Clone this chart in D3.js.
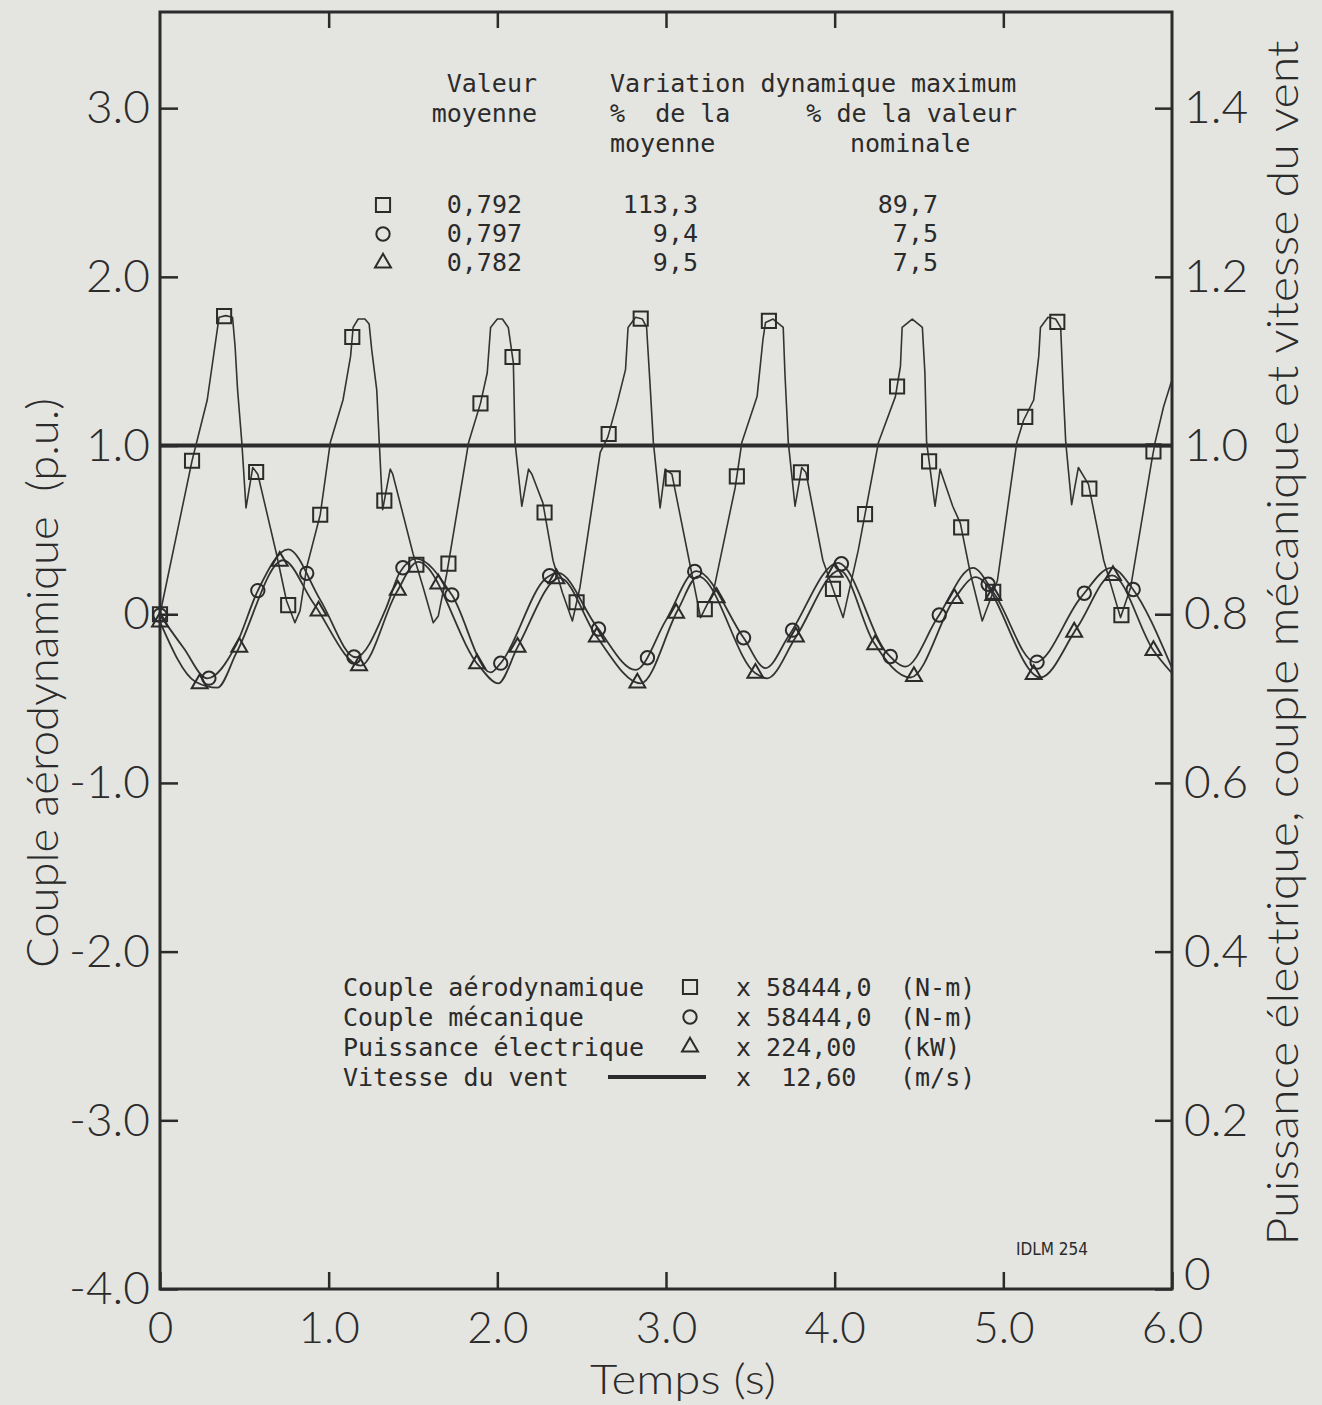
<!DOCTYPE html>
<html>
<head>
<meta charset="utf-8">
<script src="https://cdn.jsdelivr.net/npm/d3@7"></script>
<style>
  body { margin: 0; background: #e4e4e0; }
  svg { display: block; }
  .sans { font-family: "Lato", "DejaVu Sans Condensed", sans-serif; font-weight: 300; fill: #2b2b2b; }
  .mono { font-family: "DejaVu Sans Mono", "Liberation Mono", monospace; font-size: 25px; fill: #2b2b2b; white-space: pre; }
</style>
</head>
<body>
<script>
// ---- donnees ----
var temps_ticks = [0, 1, 2, 3, 4, 5, 6];
var temps_labels = ["0", "1.0", "2.0", "3.0", "4.0", "5.0", "6.0"];
var gauche_ticks = [3, 2, 1, 0, -1, -2, -3, -4];
var gauche_labels = ["3.0", "2.0", "1.0", "0", "-1.0", "-2.0", "-3.0", "-4.0"];
var droite_ticks = [1.4, 1.2, 1.0, 0.8, 0.6, 0.4, 0.2, 0];
var droite_labels = ["1.4", "1.2", "1.0", "0.8", "0.6", "0.4", "0.2", "0"];

// couple aerodynamique (axe de gauche, p.u.) : [temps, valeur]
var couple_aero = [[0.00,0.00],[0.19,0.91],[0.28,1.27],[0.34,1.69],[0.35,1.76],[0.39,1.77],[0.43,1.76],[0.445,1.59],[0.46,1.33],[0.485,1.02],[0.51,0.63],[0.55,0.87],[0.58,0.83],[0.69,0.36],[0.75,0.08],[0.80,-0.05],[0.83,0.02],[0.87,0.28],[0.95,0.59],[1.01,1.02],[1.085,1.27],[1.13,1.53],[1.145,1.70],[1.175,1.75],[1.215,1.75],[1.24,1.72],[1.255,1.57],[1.285,1.33],[1.30,1.02],[1.32,0.62],[1.365,0.86],[1.38,0.83],[1.50,0.36],[1.56,0.16],[1.62,-0.05],[1.65,-0.01],[1.70,0.24],[1.83,1.02],[1.90,1.25],[1.94,1.43],[1.96,1.70],[2.00,1.75],[2.03,1.75],[2.065,1.70],[2.095,1.49],[2.105,1.02],[2.145,0.64],[2.185,0.86],[2.205,0.83],[2.27,0.66],[2.33,0.32],[2.385,0.13],[2.445,-0.04],[2.49,0.16],[2.61,0.96],[2.655,1.05],[2.71,1.25],[2.76,1.45],[2.775,1.70],[2.82,1.76],[2.86,1.75],[2.885,1.70],[2.905,1.37],[2.925,1.02],[2.965,0.63],[2.995,0.86],[3.035,0.83],[3.145,0.28],[3.205,-0.02],[3.28,0.13],[3.41,0.75],[3.45,1.02],[3.54,1.29],[3.575,1.63],[3.59,1.73],[3.635,1.75],[3.695,1.70],[3.705,1.43],[3.725,1.02],[3.765,0.64],[3.805,0.87],[3.83,0.84],[3.93,0.32],[4.05,-0.02],[4.14,0.38],[4.26,1.02],[4.36,1.29],[4.39,1.47],[4.40,1.70],[4.46,1.75],[4.52,1.70],[4.535,1.43],[4.545,1.02],[4.595,0.64],[4.625,0.86],[4.70,0.64],[4.745,0.54],[4.805,0.24],[4.875,-0.04],[4.965,0.20],[5.08,1.02],[5.12,1.15],[5.18,1.27],[5.21,1.53],[5.22,1.70],[5.265,1.76],[5.31,1.75],[5.34,1.70],[5.355,1.33],[5.37,1.02],[5.405,0.65],[5.445,0.87],[5.505,0.77],[5.595,0.32],[5.695,-0.02],[5.755,0.16],[5.88,0.91],[5.90,1.02],[5.95,1.23],[6.00,1.39]];

// couple mecanique et puissance electrique (axe de droite, p.u.)
var couple_meca = [[0.00,0.799],[0.14,0.760],[0.28,0.724],[0.45,0.763],[0.58,0.828],[0.76,0.877],[0.95,0.817],[1.16,0.749],[1.34,0.807],[1.42,0.849],[1.52,0.866],[1.73,0.823],[1.96,0.731],[2.02,0.742],[2.29,0.843],[2.36,0.849],[2.59,0.785],[2.82,0.734],[3.00,0.793],[3.18,0.851],[3.46,0.772],[3.59,0.736],[3.73,0.775],[4.02,0.861],[4.31,0.754],[4.42,0.738],[4.61,0.796],[4.82,0.855],[4.95,0.823],[5.19,0.743],[5.46,0.820],[5.64,0.855],[5.76,0.832],[6.00,0.736]];
var puissance_elec = [[0.00,0.791],[0.21,0.720],[0.34,0.713],[0.455,0.755],[0.73,0.864],[0.91,0.813],[1.19,0.739],[1.40,0.825],[1.53,0.862],[1.89,0.739],[2.005,0.718],[2.12,0.761],[2.37,0.843],[2.59,0.773],[2.85,0.718],[3.07,0.805],[3.19,0.845],[3.53,0.730],[3.60,0.724],[3.77,0.773],[4.03,0.852],[4.23,0.767],[4.45,0.725],[4.715,0.820],[4.835,0.844],[5.22,0.725],[5.44,0.785],[5.645,0.846],[5.89,0.757],[6.00,0.730]];
var vitesse_vent = [[0, 1.0], [6, 1.0]];

// instants des symboles sur chaque courbe
var marques_aero = [0,0.19,0.38,0.57,0.76,0.95,1.14,1.33,1.52,1.71,1.90,2.09,2.28,2.47,2.66,2.85,3.04,3.23,3.42,3.61,3.80,3.99,4.18,4.37,4.56,4.75,4.94,5.13,5.32,5.51,5.70,5.89];
var marques_meca = [0,0.29,0.58,0.87,1.15,1.44,1.73,2.02,2.31,2.60,2.89,3.17,3.46,3.75,4.04,4.33,4.62,4.91,5.20,5.48,5.77];
var marques_elec = [0,0.235,0.47,0.71,0.94,1.18,1.41,1.65,1.88,2.12,2.35,2.59,2.83,3.06,3.30,3.53,3.77,4.00,4.24,4.47,4.71,4.94,5.18,5.42,5.65,5.89];

// tableau du haut
var symboles = ["carre", "cercle", "triangle"];
var valeur_moyenne = ["0,792", "0,797", "0,782"];
var pct_moyenne = ["113,3", "9,4", "9,5"];
var pct_nominale = ["89,7", "7,5", "7,5"];

// legende du bas
var legende_noms = ["Couple aérodynamique", "Couple mécanique", "Puissance électrique", "Vitesse du vent"];
var legende_facteurs = ["x 58444,0", "x 58444,0", "x 224,00", "x  12,60"];
var legende_unites = ["(N-m)", "(N-m)", "(kW)", "(m/s)"];

// ---- dessin ----
var W = 1322, H = 1405;
var encre = "#2b2b2b";
var svg = d3.select("body").append("svg").attr("width", W).attr("height", H);
svg.append("rect").attr("width", W).attr("height", H).attr("fill", "#e4e4e0");

var x = d3.scaleLinear().domain([0, 6]).range([160, 1172]);
var yG = d3.scaleLinear().domain([-4, 3.57]).range([1289, 12]);
var yD = d3.scaleLinear().domain([0, 0.8 + 0.2 * 3.57]).range([1289, 12]);

function symb(nom, taille) {
  var t = nom == "carre" ? d3.symbolSquare : nom == "cercle" ? d3.symbolCircle : d3.symbolTriangle;
  return d3.symbol().type(t).size(taille)();
}
var tailles = { carre: 200, cercle: 140, triangle: 110 };

// axes (ticks vers l'interieur)
var axeG = svg.append("g").attr("transform", "translate(160,0)")
  .call(d3.axisLeft(yG).tickValues(gauche_ticks).tickSize(-18).tickPadding(10)
    .tickFormat(function (d, i) { return gauche_labels[i]; }));
var axeD = svg.append("g").attr("transform", "translate(1172,0)")
  .call(d3.axisRight(yD).tickValues(droite_ticks).tickSize(-17).tickPadding(12)
    .tickFormat(function (d, i) { return droite_labels[i]; }));
var axeB = svg.append("g").attr("transform", "translate(0,1289)")
  .call(d3.axisBottom(x).tickValues(temps_ticks).tickSize(-17).tickPadding(23)
    .tickFormat(function (d, i) { return temps_labels[i]; }));
var axeH = svg.append("g").attr("transform", "translate(0,12)")
  .call(d3.axisTop(x).tickValues(temps_ticks.slice(1, 6)).tickSize(-16).tickFormat(""));

[axeG, axeD, axeB, axeH].forEach(function (a) {
  a.select(".domain").remove();
  a.selectAll(".tick line").attr("stroke", encre).attr("stroke-width", 2.5);
  a.selectAll("text").attr("class", "sans").attr("font-size", 46).attr("fill", encre);
});
axeB.selectAll("text").attr("font-size", 44);
// le "0" de droite remonte un peu, comme sur l'original
axeD.selectAll(".tick text").filter(function (d) { return d === 0; }).attr("dy", "0em");

// cadre
svg.append("rect").attr("x", x(0)).attr("y", yG(3.57))
  .attr("width", x(6) - x(0)).attr("height", yG(-4) - yG(3.57))
  .attr("fill", "none").attr("stroke", encre).attr("stroke-width", 3);

// courbes
var ligneG = d3.line().x(function (d) { return x(d[0]); }).y(function (d) { return yG(d[1]); });
var ligneD = d3.line().x(function (d) { return x(d[0]); }).y(function (d) { return yD(d[1]); }).curve(d3.curveMonotoneX);
var ligneVent = d3.line().x(function (d) { return x(d[0]); }).y(function (d) { return yD(d[1]); });

svg.append("path").datum(vitesse_vent).attr("d", ligneVent)
  .attr("fill", "none").attr("stroke", encre).attr("stroke-width", 4);

var pAero = svg.append("path").datum(couple_aero).attr("d", ligneG)
  .attr("fill", "none").attr("stroke", "#333").attr("stroke-width", 1.6).attr("stroke-linejoin", "round");
var pMeca = svg.append("path").datum(couple_meca).attr("d", ligneD)
  .attr("fill", "none").attr("stroke", "#333").attr("stroke-width", 1.8);
var pElec = svg.append("path").datum(puissance_elec).attr("d", ligneD)
  .attr("fill", "none").attr("stroke", "#333").attr("stroke-width", 1.8);

// cherche le point du trace a l'abscisse px
function pointA(noeud, px) {
  var lo = 0, hi = noeud.getTotalLength();
  for (var i = 0; i < 40; i++) {
    var m = (lo + hi) / 2;
    if (noeud.getPointAtLength(m).x < px) lo = m; else hi = m;
  }
  return noeud.getPointAtLength((lo + hi) / 2);
}

function marques(chemin, temps, nom) {
  var noeud = chemin.node();
  svg.append("g").selectAll("path").data(temps).enter().append("path")
    .attr("d", symb(nom, tailles[nom]))
    .attr("transform", function (t) {
      var p = pointA(noeud, x(t));
      return "translate(" + p.x + "," + p.y + ")";
    })
    .attr("fill", "none").attr("stroke", encre).attr("stroke-width", 2);
}
marques(pAero, marques_aero, "carre");
marques(pMeca, marques_meca, "cercle");
marques(pElec, marques_elec, "triangle");

// titres des axes
svg.append("text").attr("class", "sans").attr("font-size", 44)
  .attr("transform", "translate(58,683) rotate(-90)").attr("text-anchor", "middle")
  .attr("textLength", 570).attr("lengthAdjust", "spacingAndGlyphs")
  .style("white-space", "pre").text("Couple aérodynamique  (p.u.)");
svg.append("text").attr("class", "sans").attr("font-size", 44)
  .attr("transform", "translate(1298,643) rotate(-90)").attr("text-anchor", "middle")
  .attr("textLength", 1205).attr("lengthAdjust", "spacingAndGlyphs")
  .text("Puissance électrique, couple mécanique et vitesse du vent");
svg.append("text").attr("class", "sans").attr("font-size", 41)
  .attr("x", 683).attr("y", 1394).attr("text-anchor", "middle")
  .attr("textLength", 186).attr("lengthAdjust", "spacingAndGlyphs")
  .text("Temps (s)");

// tableau du haut
var entete = [
  { t: "Valeur", x: 537, y: 92, a: "end" },
  { t: "moyenne", x: 537, y: 122, a: "end" },
  { t: "Variation dynamique maximum", x: 610, y: 92, a: "start" },
  { t: "%  de la", x: 610, y: 122, a: "start" },
  { t: "% de la valeur", x: 1017, y: 122, a: "end" },
  { t: "moyenne", x: 610, y: 152, a: "start" },
  { t: "nominale", x: 850, y: 152, a: "start" }
];
svg.append("g").selectAll("text").data(entete).enter().append("text")
  .attr("class", "mono").attr("x", function (d) { return d.x; }).attr("y", function (d) { return d.y; })
  .attr("text-anchor", function (d) { return d.a; }).text(function (d) { return d.t; });

var lignesY = [213, 242, 271];
symboles.forEach(function (s, i) {
  svg.append("path").attr("d", symb(s, tailles[s]))
    .attr("transform", "translate(383," + (lignesY[i] - 8) + ")")
    .attr("fill", "none").attr("stroke", encre).attr("stroke-width", 2);
  svg.append("text").attr("class", "mono").attr("x", 522).attr("y", lignesY[i]).attr("text-anchor", "end").text(valeur_moyenne[i]);
  svg.append("text").attr("class", "mono").attr("x", 698).attr("y", lignesY[i]).attr("text-anchor", "end").text(pct_moyenne[i]);
  svg.append("text").attr("class", "mono").attr("x", 938).attr("y", lignesY[i]).attr("text-anchor", "end").text(pct_nominale[i]);
});

// legende du bas
var legY = [996, 1026, 1056, 1086];
legende_noms.forEach(function (n, i) {
  svg.append("text").attr("class", "mono").attr("x", 343).attr("y", legY[i]).text(n);
  svg.append("text").attr("class", "mono").attr("x", 736).attr("y", legY[i]).text(legende_facteurs[i]);
  svg.append("text").attr("class", "mono").attr("x", 900).attr("y", legY[i]).text(legende_unites[i]);
  if (i < 3) {
    svg.append("path").attr("d", symb(symboles[i], tailles[symboles[i]]))
      .attr("transform", "translate(690," + (legY[i] - 9) + ")")
      .attr("fill", "none").attr("stroke", encre).attr("stroke-width", 2);
  } else {
    svg.append("line").attr("x1", 608).attr("x2", 706).attr("y1", legY[i] - 9).attr("y2", legY[i] - 9)
      .attr("stroke", encre).attr("stroke-width", 4);
  }
});

svg.append("text").attr("x", 1016).attr("y", 1255)
  .attr("font-family", "DejaVu Sans Condensed, sans-serif").attr("font-size", 17).attr("fill", encre)
  .text("IDLM 254");
</script>
</body>
</html>
